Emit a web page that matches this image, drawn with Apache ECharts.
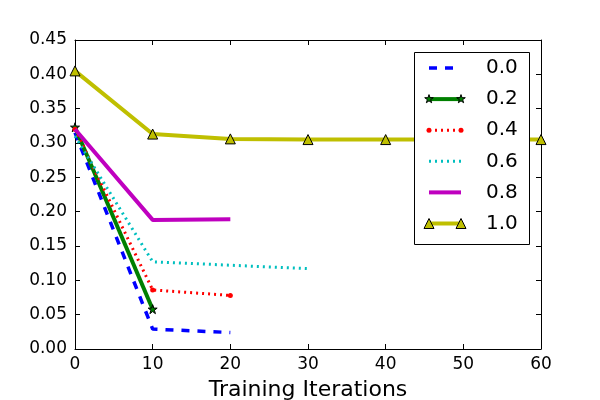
<!DOCTYPE html>
<html>
<head>
<meta charset="utf-8">
<script src="https://cdn.jsdelivr.net/npm/echarts@6/dist/echarts.min.js"></script>
<style>html,body{margin:0;padding:0;background:#fff;}#c{width:600px;height:400px;}</style>
</head>
<body>
<div id="c"></div>
<script>
var seriesNames = ['0.0', '0.2', '0.4', '0.6', '0.8', '1.0'];
var s00 = [[0, 0.315], [10, 0.029], [20, 0.024]];
var s02 = [[0, 0.323], [10, 0.058]];
var s04 = [[0, 0.320], [10, 0.086], [20, 0.078]];
var s06 = [[0, 0.310], [10, 0.127], [20, 0.122], [30, 0.117]];
var s08 = [[0, 0.320], [10, 0.188], [20, 0.189]];
var s10 = [[0, 0.405], [10, 0.313], [20, 0.306], [30, 0.305], [40, 0.305], [50, 0.305], [60, 0.305]];
var xTicks = [0, 10, 20, 30, 40, 50, 60];
var yTicks = [0, 0.05, 0.10, 0.15, 0.20, 0.25, 0.30, 0.35, 0.40, 0.45];
var xLabel = 'Training Iterations';

var FONT = 'DejaVu Sans';
var STAR = 'path://M50,0L61.2,34.5L97.6,34.5L68.2,55.9L79.4,90.5L50,69.1L20.6,90.5L31.8,55.9L2.4,34.5L38.8,34.5Z';

var styles = [
  {color: '#0000ff', width: 3.5, type: [8, 8], symbol: 'none'},
  {color: '#008000', width: 4, type: 'solid', symbol: STAR, size: 9},
  {color: '#ff0000', width: 3, type: [2, 4], symbol: 'circle', size: 5},
  {color: '#00bfbf', width: 3, type: [2, 4], symbol: 'none'},
  {color: '#bf00bf', width: 4, type: 'solid', symbol: 'none'},
  {color: '#bfbf00', width: 4, type: 'solid', symbol: 'triangle', size: 10}
];
var datas = [s00, s02, s04, s06, s08, s10];

var series = datas.map(function (d, i) {
  var st = styles[i];
  return {
    name: seriesNames[i],
    type: 'line',
    data: d,
    showSymbol: st.symbol !== 'none',
    symbol: st.symbol,
    symbolSize: st.size || 0,
    animation: false,
    z: 2 + i,
    lineStyle: {color: st.color, width: st.width, type: st.type, cap: 'butt'},
    itemStyle: {color: st.color, borderColor: st.symbol === 'circle' ? st.color : '#000', borderWidth: st.symbol === 'circle' ? 0 : 1},
    emphasis: {disabled: true}
  };
});

// legend drawn with graphic elements
var lx = 414, ly = 52, lw = 115, lh = 192;
var graphics = [{
  type: 'rect', shape: {x: lx + 0.5, y: ly + 0.5, width: lw, height: lh},
  style: {fill: '#fff', stroke: '#000', lineWidth: 1}, z: 100
}];
function starPts(cx, cy, s) {
  var base = [[50,0],[61.2,34.5],[97.6,34.5],[68.2,55.9],[79.4,90.5],[50,69.1],[20.6,90.5],[31.8,55.9],[2.4,34.5],[38.8,34.5]];
  return base.map(function (p) { return [cx + (p[0] - 50) * s / 100, cy + (p[1] - 50) * s / 100]; });
}
function triPts(cx, cy, s) {
  return [[cx, cy - s / 2], [cx + s / 2, cy + s / 2], [cx - s / 2, cy + s / 2]];
}
seriesNames.forEach(function (n, i) {
  var st = styles[i];
  var y = 68 + i * 31.1;
  var x1 = 429, x2 = 461;
  graphics.push({
    type: 'line', shape: {x1: x1, y1: y, x2: x2, y2: y},
    style: {stroke: st.color, lineWidth: st.width, lineDash: Array.isArray(st.type) ? st.type : null}, z: 101
  });
  [x1, x2].forEach(function (x) {
    if (st.symbol === STAR) {
      graphics.push({type: 'polygon', shape: {points: starPts(x, y, st.size)}, style: {fill: st.color, stroke: '#000', lineWidth: 1}, z: 102});
    } else if (st.symbol === 'triangle') {
      graphics.push({type: 'polygon', shape: {points: triPts(x, y, st.size)}, style: {fill: st.color, stroke: '#000', lineWidth: 1}, z: 102});
    } else if (st.symbol === 'circle') {
      graphics.push({type: 'circle', shape: {cx: x, cy: y, r: st.size / 2}, style: {fill: st.color}, z: 102});
    }
  });
  graphics.push({
    type: 'text', x: 486, y: y,
    style: {text: n, font: '20px "' + FONT + '"', fill: '#000', verticalAlign: 'middle', textAlign: 'left'}, z: 102
  });
});

function axisCommon() {
  return {
    axisLine: {show: true, onZero: false, lineStyle: {color: '#000', width: 1}},
    axisTick: {show: true, inside: true, length: 5, lineStyle: {color: '#000', width: 1}},
    splitLine: {show: false}
  };
}

var option = {
  animation: false,
  backgroundColor: '#fff',
  grid: {left: 75, right: 59, top: 40, bottom: 51, containLabel: false, outerBoundsMode: 'none'},
  xAxis: [
    Object.assign({
      type: 'value', min: xTicks[0], max: xTicks[xTicks.length - 1], interval: 10,
      position: 'bottom',
      name: xLabel, nameLocation: 'middle', nameGap: 30,
      nameTextStyle: {fontFamily: FONT, fontSize: 22, color: '#000'},
      axisLabel: {fontFamily: FONT, fontSize: 17, color: '#000', margin: 7}
    }, axisCommon()),
    Object.assign({
      type: 'value', min: xTicks[0], max: xTicks[xTicks.length - 1], interval: 10,
      position: 'top', axisLabel: {show: false}
    }, axisCommon())
  ],
  yAxis: [
    Object.assign({
      type: 'value', min: yTicks[0], max: yTicks[yTicks.length - 1], interval: 0.05,
      position: 'left',
      axisLabel: {fontFamily: FONT, fontSize: 17, color: '#000', margin: 8, formatter: function (v) { return v.toFixed(2); }}
    }, axisCommon()),
    Object.assign({
      type: 'value', min: yTicks[0], max: yTicks[yTicks.length - 1], interval: 0.05,
      position: 'right', axisLabel: {show: false}
    }, axisCommon())
  ],
  series: series,
  graphic: graphics
};

var chart = echarts.init(document.getElementById('c'), null, {renderer: 'canvas'});
chart.setOption(option);
</script>
</body>
</html>
